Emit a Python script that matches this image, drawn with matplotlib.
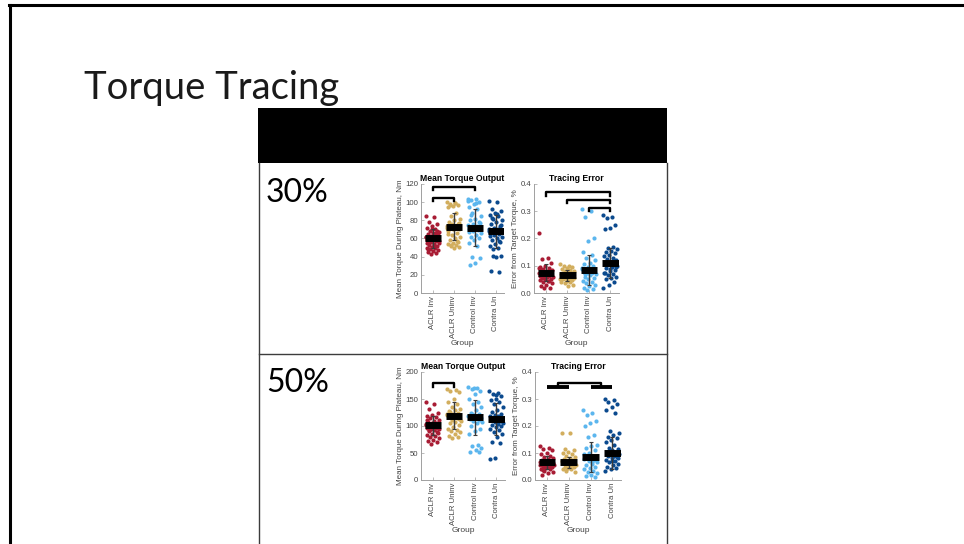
import matplotlib.pyplot as plt
import numpy as np

plt.rcParams['font.family'] = ['Liberation Sans', 'DejaVu Sans']

groups = ['ACLR Inv', 'ACLR Uninv', 'Control Inv', 'Contra Un']
group_colors = ['#A81C34', '#D2AE5E', '#5CB6EE', '#0B4A8E']

# ---- 30% effort ----
torque30 = [
    [85, 84, 78, 76, 74, 72, 70, 68, 67, 66, 65, 64, 63, 62, 61, 60, 60, 59, 58, 57,
     56, 55, 54, 53, 52, 51, 50, 49, 48, 47, 46, 45, 44, 43, 62, 58, 56, 64, 70, 55,
     66, 61, 57, 53, 48, 68],
    [100, 99, 98, 97, 96, 95, 88, 85, 82, 80, 78, 76, 75, 74, 73, 72, 71, 70, 68, 66,
     64, 62, 60, 58, 56, 55, 54, 53, 52, 51, 50, 74, 73, 76, 72, 99, 97, 77, 70, 65,
     57, 53],
    [104, 103, 102, 100, 98, 95, 92, 88, 85, 82, 80, 78, 76, 75, 74, 73, 72, 71, 70, 69,
     68, 66, 64, 62, 60, 58, 55, 52, 40, 38, 33, 31, 73, 71, 101, 99, 86, 77, 74, 67],
    [101, 100, 92, 90, 88, 86, 85, 82, 80, 78, 76, 74, 72, 71, 70, 69, 68, 67, 66, 65,
     64, 62, 60, 58, 56, 54, 52, 50, 48, 41, 40, 24, 23, 70, 68, 87, 83, 75, 69, 63,
     57, 41],
]
torque30_mean = [60, 73, 72, 68]
torque30_sd = [10, 15, 20, 18]

error30 = [
    [0.22, 0.13, 0.125, 0.11, 0.10, 0.095, 0.09, 0.088, 0.085, 0.082, 0.08, 0.078, 0.076,
     0.075, 0.074, 0.072, 0.07, 0.068, 0.066, 0.064, 0.062, 0.06, 0.058, 0.055, 0.052,
     0.05, 0.048, 0.045, 0.04, 0.035, 0.03, 0.025, 0.02, 0.02, 0.09, 0.07, 0.083, 0.077,
     0.067, 0.061, 0.044],
    [0.105, 0.1, 0.098, 0.095, 0.09, 0.088, 0.085, 0.082, 0.08, 0.078, 0.075, 0.072, 0.07,
     0.068, 0.066, 0.065, 0.064, 0.062, 0.06, 0.058, 0.056, 0.055, 0.053, 0.05, 0.048,
     0.045, 0.042, 0.04, 0.035, 0.03, 0.025, 0.069, 0.063, 0.059, 0.051],
    [0.31, 0.3, 0.28, 0.2, 0.19, 0.15, 0.14, 0.13, 0.12, 0.11, 0.105, 0.1, 0.095, 0.09,
     0.088, 0.085, 0.082, 0.08, 0.078, 0.075, 0.072, 0.07, 0.065, 0.06, 0.055, 0.05,
     0.045, 0.04, 0.035, 0.03, 0.025, 0.02, 0.015, 0.01, 0.087, 0.079, 0.068],
    [0.285, 0.28, 0.275, 0.25, 0.24, 0.235, 0.17, 0.165, 0.16, 0.155, 0.15, 0.145, 0.14,
     0.135, 0.13, 0.125, 0.12, 0.115, 0.11, 0.108, 0.105, 0.1, 0.095, 0.09, 0.085, 0.08,
     0.075, 0.07, 0.065, 0.06, 0.055, 0.05, 0.04, 0.03, 0.02, 0.112, 0.102, 0.097,
     0.088, 0.073],
]
error30_mean = [0.075, 0.065, 0.085, 0.11]
error30_sd = [0.03, 0.02, 0.055, 0.055]

# ---- 50% effort ----
torque50 = [
    [145, 140, 132, 125, 120, 118, 116, 114, 112, 110, 108, 106, 104, 102, 101, 100, 99,
     98, 97, 96, 95, 94, 92, 90, 88, 86, 84, 82, 80, 78, 75, 72, 70, 67, 103, 99, 93,
     87, 105, 111],
    [168, 166, 165, 163, 150, 145, 140, 135, 132, 130, 128, 125, 123, 121, 120, 119, 118,
     117, 116, 115, 112, 110, 108, 105, 102, 98, 95, 92, 90, 88, 85, 82, 80, 78, 122,
     118, 126, 113],
    [172, 170, 168, 165, 160, 150, 145, 140, 135, 130, 125, 122, 120, 118, 117, 116, 115,
     114, 113, 112, 110, 108, 105, 100, 95, 90, 85, 65, 63, 60, 55, 52, 51, 171, 119,
     114, 123],
    [165, 162, 160, 155, 150, 148, 145, 140, 135, 130, 126, 122, 120, 118, 116, 114, 113,
     112, 111, 110, 108, 106, 104, 102, 100, 98, 95, 92, 88, 85, 80, 70, 68, 40, 38,
     119, 115, 109, 157],
]
torque50_mean = [101, 119, 116, 113]
torque50_sd = [17, 25, 33, 30]

error50 = [
    [0.125, 0.12, 0.115, 0.11, 0.1, 0.095, 0.09, 0.085, 0.08, 0.078, 0.075, 0.072, 0.07,
     0.068, 0.066, 0.065, 0.064, 0.062, 0.06, 0.058, 0.056, 0.054, 0.052, 0.05, 0.048,
     0.045, 0.042, 0.04, 0.035, 0.03, 0.025, 0.02, 0.067, 0.061, 0.057, 0.047, 0.038],
    [0.175, 0.175, 0.115, 0.11, 0.105, 0.1, 0.095, 0.09, 0.085, 0.08, 0.078, 0.075, 0.072,
     0.07, 0.068, 0.066, 0.065, 0.064, 0.062, 0.06, 0.058, 0.055, 0.052, 0.05, 0.048,
     0.045, 0.042, 0.04, 0.035, 0.03, 0.071, 0.063, 0.057, 0.046],
    [0.26, 0.25, 0.24, 0.22, 0.21, 0.2, 0.165, 0.16, 0.13, 0.125, 0.12, 0.11, 0.1, 0.095,
     0.09, 0.088, 0.085, 0.082, 0.08, 0.075, 0.07, 0.065, 0.06, 0.055, 0.05, 0.045, 0.04,
     0.035, 0.03, 0.025, 0.02, 0.015, 0.01, 0.087, 0.078, 0.068],
    [0.3, 0.295, 0.29, 0.28, 0.27, 0.26, 0.25, 0.18, 0.175, 0.165, 0.16, 0.155, 0.15, 0.14,
     0.13, 0.12, 0.115, 0.11, 0.105, 0.1, 0.098, 0.095, 0.09, 0.088, 0.085, 0.08, 0.075,
     0.07, 0.065, 0.06, 0.055, 0.05, 0.045, 0.04, 0.035, 0.102, 0.093, 0.083, 0.072],
]
error50_mean = [0.065, 0.065, 0.085, 0.10]
error50_sd = [0.025, 0.022, 0.055, 0.06]

# significance brackets: (from group, to group, bar height, foot height)
brackets_torque30 = [(1, 2, 105, 101), (1, 3, 117, 113)]
brackets_error30 = [(1, 4, 0.37, 0.355), (2, 4, 0.342, 0.33), (3, 4, 0.313, 0.30)]
brackets_torque50 = [(1, 2, 180, 173)]
brackets_error50 = [(1.5, 3.5, 0.36, 0.347)]
flat_bars_error50 = [(1, 2, 0.346), (3, 4, 0.346)]

TXT = '#444444'
AX = '#a0a0a0'


def draw_panel(ax, data, means, sds, ymax, yticks, title, ylabel, brackets, flat_bars=()):
    for g, vals in enumerate(data):
        vals = np.asarray(vals)
        k = np.arange(len(vals))
        jitter = ((k * 0.618034) % 1 - 0.5) * 0.66
        ax.scatter(g + 1 + jitter, vals, s=9, color=group_colors[g], lw=0, zorder=2)
    pos = np.arange(1, len(data) + 1)
    ax.errorbar(pos, means, yerr=sds, fmt='none', ecolor='#3a3a3a', elinewidth=1.0,
                capsize=1.3, capthick=0.8, zorder=3)
    for p, m in zip(pos, means):
        ax.plot([p - 0.38, p + 0.38], [m, m], color='black', lw=5,
                solid_capstyle='butt', zorder=4)
    for a, b, top, foot in brackets:
        ax.plot([a, a, b, b], [foot, top, top, foot], color='black', lw=1.7,
                clip_on=False, zorder=5)
    for a, b, y in flat_bars:
        ax.plot([a, b], [y, y], color='black', lw=2.8, solid_capstyle='butt',
                clip_on=False, zorder=5)

    ax.set_xlim(0.45, 4.4)
    ax.set_ylim(0, ymax)
    ax.set_yticks(yticks)
    ax.set_xticks(pos)
    ax.set_xticklabels(groups, rotation=90, fontsize=5.6, color=TXT)
    ax.tick_params(axis='y', labelsize=5.6, labelcolor=TXT)
    ax.tick_params(direction='in', length=2, width=0.5, color=AX, pad=2)
    for side in ['top', 'right']:
        ax.spines[side].set_visible(False)
    for side in ['left', 'bottom']:
        ax.spines[side].set_color(AX)
        ax.spines[side].set_linewidth(0.7)
    ax.set_title(title, fontsize=6.2, fontweight='bold', pad=2)
    ax.set_ylabel(ylabel, fontsize=5.8, color=TXT, labelpad=1)
    ax.set_xlabel('Group', fontsize=6, color=TXT, labelpad=1.5)


fig = plt.figure(figsize=(9.64, 5.44), dpi=100)
W, H = 964, 544


def px_rect(x0, y0, x1, y1):
    return [x0 / W, 1 - y1 / H, (x1 - x0) / W, (y1 - y0) / H]


# slide frame
fig.add_artist(plt.Line2D([9 / W, 1], [1 - 5 / H, 1 - 5 / H], color='black', lw=2.2))
fig.add_artist(plt.Line2D([10 / W, 10 / W], [1 - 5 / H, 0], color='black', lw=2.2))

fig.text(84 / W, 1 - 99 / H, 'Torque Tracing', fontsize=27.5, family=['Lato', 'DejaVu Sans'],
         fontweight='normal', va='baseline', ha='left', color='#1a1a1a')

# table
fig.add_artist(plt.Rectangle((258 / W, 1 - 163 / H), 409 / W, 55 / H, color='black', lw=0))
tbl = '#3c3c3c'
fig.add_artist(plt.Line2D([259 / W, 259 / W], [1 - 163 / H, 0], color=tbl, lw=1.0))
fig.add_artist(plt.Line2D([667 / W, 667 / W], [1 - 163 / H, 0], color=tbl, lw=1.0))
fig.add_artist(plt.Line2D([259 / W, 667 / W], [1 - 354 / H, 1 - 354 / H], color=tbl, lw=1.0))

fig.text(266 / W, 1 - 202 / H, '30%', fontsize=23, family=['Lato', 'DejaVu Sans'], va='baseline')
fig.text(266 / W, 1 - 392 / H, '50%', fontsize=23, family=['Lato', 'DejaVu Sans'], va='baseline')

ax1 = fig.add_axes(px_rect(421, 184, 504, 293))
draw_panel(ax1, torque30, torque30_mean, torque30_sd, 120, [0, 20, 40, 60, 80, 100, 120],
           'Mean Torque Output', 'Mean Torque During Plateau, Nm', brackets_torque30)
ax2 = fig.add_axes(px_rect(534, 184, 619, 293))
draw_panel(ax2, error30, error30_mean, error30_sd, 0.4, [0, 0.1, 0.2, 0.3, 0.4],
           'Tracing Error', 'Error from Target Torque, %', brackets_error30)
ax3 = fig.add_axes(px_rect(421, 372, 505, 480))
draw_panel(ax3, torque50, torque50_mean, torque50_sd, 200, [0, 50, 100, 150, 200],
           'Mean Torque Output', 'Mean Torque During Plateau, Nm', brackets_torque50)
ax4 = fig.add_axes(px_rect(535, 372, 621, 480))
draw_panel(ax4, error50, error50_mean, error50_sd, 0.4, [0, 0.1, 0.2, 0.3, 0.4],
           'Tracing Error', 'Error from Target Torque, %', brackets_error50, flat_bars_error50)

fig.savefig('out.png', dpi=100)
